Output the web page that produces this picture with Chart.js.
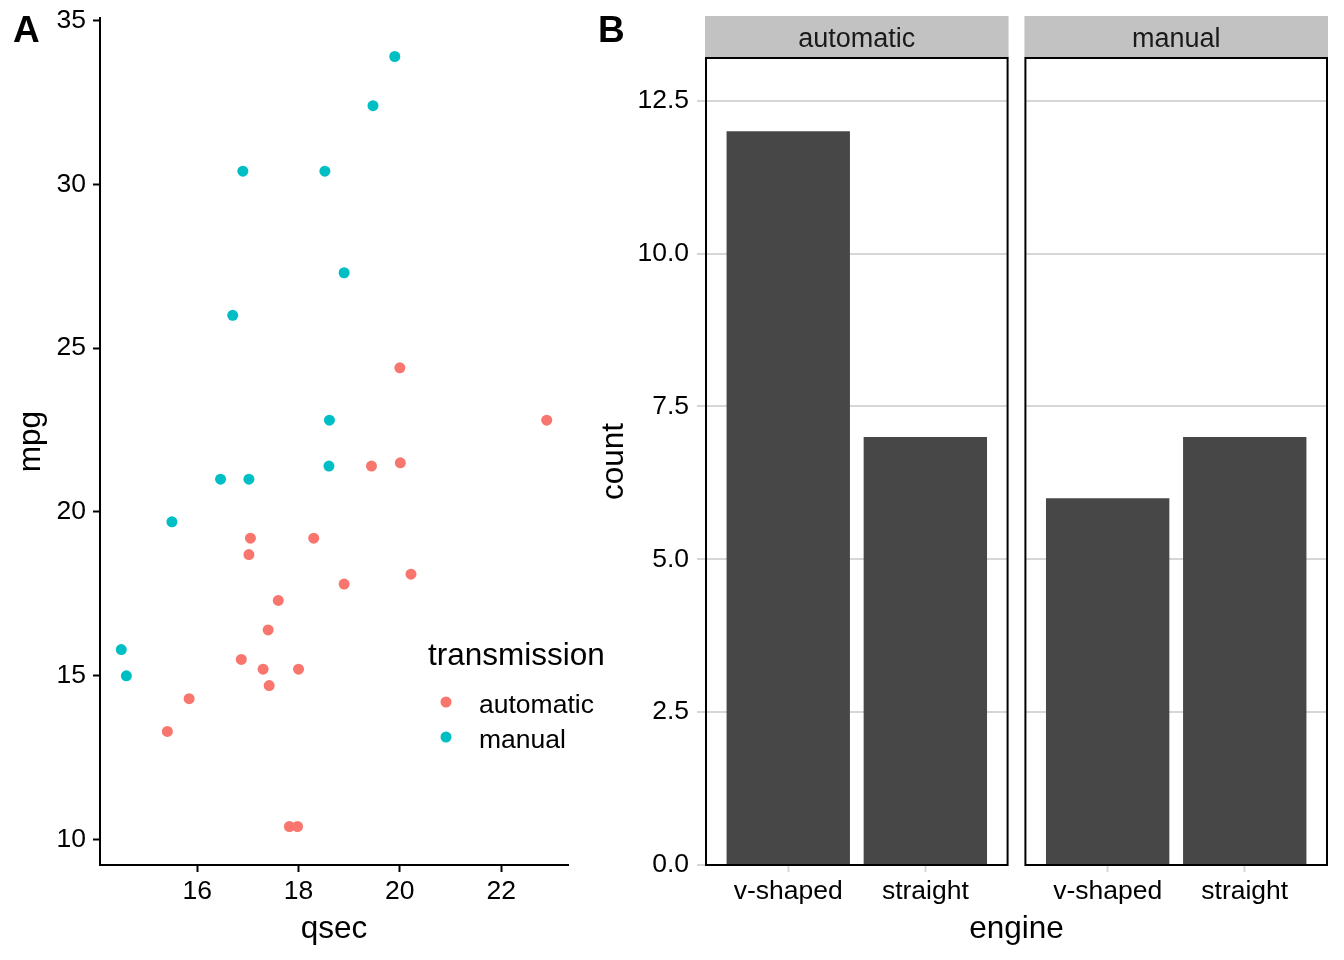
<!DOCTYPE html>
<html>
<head>
<meta charset="utf-8">
<script src="https://cdn.jsdelivr.net/npm/chart.js@4/dist/chart.umd.min.js"></script>
<style>
  body { margin: 0; background: #fff; }
  #wrap { position: relative; width: 1344px; height: 960px; overflow: hidden; }
  canvas { position: absolute; top: 0; }
  #chartA { left: 0; }
  #chartB { left: 580px; }
</style>
</head>
<body>
<div id="wrap">
  <canvas id="chartA" width="620" height="960"></canvas>
  <canvas id="chartB" width="764" height="960"></canvas>
</div>
<script>
// Panel A data: mtcars qsec vs mpg, split by transmission
const qsecAutomatic = [19.44, 17.02, 20.22, 15.84, 20.00, 22.90, 18.30, 18.90, 17.40, 17.60, 18.00, 17.98, 17.82, 17.42, 20.01, 16.87, 17.30, 15.41, 17.05];
const mpgAutomatic  = [21.4, 18.7, 18.1, 14.3, 24.4, 22.8, 19.2, 17.8, 16.4, 17.3, 15.2, 10.4, 10.4, 14.7, 21.5, 15.5, 15.2, 13.3, 19.2];
const qsecManual = [16.46, 17.02, 18.61, 19.47, 18.52, 19.90, 18.90, 16.70, 16.90, 14.50, 15.50, 14.60, 18.60];
const mpgManual  = [21.0, 21.0, 22.8, 32.4, 30.4, 33.9, 27.3, 26.0, 30.4, 15.8, 19.7, 15.0, 21.4];
const xTicksA = [16, 18, 20, 22];
const yTicksA = [10, 15, 20, 25, 30, 35];

// Panel B data: count of cars by engine, faceted by transmission
const transmissions = ['automatic', 'manual'];
const engines = ['v-shaped', 'straight'];
const countsAutomatic = [12, 7];
const countsManual = [6, 7];
const yTicksB = [0, 2.5, 5, 7.5, 10, 12.5];

const colors = { automatic: '#F8766D', manual: '#00BFC4', bar: '#474747' };
const FONT = '"Liberation Sans", Arial, Helvetica, sans-serif';
const tickFont = { family: FONT, size: 26.5 };
const titleFont = { family: FONT, size: 31.5 };

// ggplot style 5% expansion of a continuous range
function expandRange(values) {
    const lo = Math.min(...values);
    const hi = Math.max(...values);
    const pad = (hi - lo) * 0.05;
    return [lo - pad, hi + pad];
}

// keep the axis from pushing the plot area in for its end labels
function noLabelPadding(scale) {
    scale.paddingTop = 0;
    scale.paddingBottom = 0;
    scale.paddingLeft = 0;
    scale.paddingRight = 0;
}

const [xMinA, xMaxA] = expandRange(qsecAutomatic.concat(qsecManual));
const [yMinA, yMaxA] = expandRange(mpgAutomatic.concat(mpgManual));

// Legend and tag for panel A
const panelALegend = {
    id: 'panelALegend',
    afterDraw(chart) {
        const ctx = chart.ctx;
        ctx.save();
        ctx.fillStyle = '#000';
        ctx.textBaseline = 'alphabetic';
        ctx.textAlign = 'left';
        ctx.font = 'bold 37px ' + FONT;
        ctx.fillText('A', 13, 42);
        ctx.font = '31.5px ' + FONT;
        ctx.fillText('transmission', 428, 665);
        ctx.font = '26.5px ' + FONT;
        chart.data.datasets.forEach((ds, i) => {
            const cy = 702 + i * 35;
            ctx.fillStyle = ds.backgroundColor;
            ctx.beginPath();
            ctx.arc(446, cy, 5.5, 0, Math.PI * 2);
            ctx.fill();
            ctx.fillStyle = '#000';
            ctx.fillText(ds.label, 479, cy + 11);
        });
        ctx.restore();
    }
};

new Chart(document.getElementById('chartA'), {
    type: 'scatter',
    data: {
        datasets: [
            {
                label: transmissions[0],
                data: qsecAutomatic.map((x, i) => ({ x: x, y: mpgAutomatic[i] })),
                backgroundColor: colors.automatic,
                pointRadius: 5.5,
                borderWidth: 0
            },
            {
                label: transmissions[1],
                data: qsecManual.map((x, i) => ({ x: x, y: mpgManual[i] })),
                backgroundColor: colors.manual,
                pointRadius: 5.5,
                borderWidth: 0
            }
        ]
    },
    options: {
        responsive: false,
        animation: false,
        events: [],
        layout: { padding: { left: 0, top: 18, right: 52, bottom: 0 } },
        plugins: { legend: { display: false }, tooltip: { enabled: false } },
        scales: {
            x: {
                type: 'linear',
                min: xMinA,
                max: xMaxA,
                afterBuildTicks: (scale) => { scale.ticks = xTicksA.map(v => ({ value: v })); },
                afterFit: (scale) => { scale.height = 95; noLabelPadding(scale); },
                grid: { drawOnChartArea: false, tickLength: 7, tickColor: '#000', tickWidth: 2 },
                border: { display: true, color: '#000', width: 2 },
                ticks: { font: tickFont, color: '#000', padding: 4, maxRotation: 0, autoSkip: false },
                title: { display: true, text: 'qsec', font: titleFont, color: '#000', padding: { top: 0, bottom: 12 } }
            },
            y: {
                type: 'linear',
                min: yMinA,
                max: yMaxA,
                afterBuildTicks: (scale) => { scale.ticks = yTicksA.map(v => ({ value: v })); },
                afterFit: (scale) => { scale.width = 100; noLabelPadding(scale); },
                grid: { drawOnChartArea: false, tickLength: 7, tickColor: '#000', tickWidth: 2 },
                border: { display: true, color: '#000', width: 2 },
                ticks: { font: tickFont, color: '#000', padding: 7, autoSkip: false },
                title: { display: true, text: 'mpg', font: titleFont, color: '#000', padding: { top: 12, bottom: 0 } }
            }
        }
    },
    plugins: [panelALegend]
});

// Panel B: both facets share one linear x axis, with a small gap between them
const facetSpan = engines.length + 0.2;   // 0.6 discrete expansion on each side
const facetGap = 0.13;
const xMinB = 0.4;
const xMaxB = xMinB + facetSpan * transmissions.length + facetGap * (transmissions.length - 1);
const facetX = (f, e) => f * (facetSpan + facetGap) + e + 1;
const facetCounts = [countsAutomatic, countsManual];

const barData = [];
const xTicksB = [];
facetCounts.forEach((counts, f) => {
    counts.forEach((c, e) => {
        barData.push({ x: facetX(f, e), y: c });
        xTicksB.push(facetX(f, e));
    });
});

const facetPanels = {
    id: 'facetPanels',
    beforeDatasetsDraw(chart) {
        // clear the space between the facets
        const { ctx, chartArea } = chart;
        const xs = chart.scales.x;
        ctx.save();
        ctx.fillStyle = '#fff';
        for (let f = 0; f < transmissions.length - 1; f++) {
            const a = xs.getPixelForValue(xMinB + (f + 1) * facetSpan + f * facetGap);
            const b = xs.getPixelForValue(xMinB + (f + 1) * (facetSpan + facetGap));
            ctx.fillRect(a, chartArea.top - 2, b - a, chartArea.bottom - chartArea.top + 4);
        }
        ctx.restore();
    },
    afterDatasetsDraw(chart) {
        const { ctx, chartArea } = chart;
        const xs = chart.scales.x;
        ctx.save();
        transmissions.forEach((t, f) => {
            const a = xs.getPixelForValue(xMinB + f * (facetSpan + facetGap));
            const b = xs.getPixelForValue(xMinB + f * (facetSpan + facetGap) + facetSpan);
            // strip
            ctx.fillStyle = '#c2c2c2';
            ctx.fillRect(a - 1, chartArea.top - 42, b - a + 2, 42);
            ctx.fillStyle = '#1a1a1a';
            ctx.font = '27px ' + FONT;
            ctx.textAlign = 'center';
            ctx.textBaseline = 'alphabetic';
            ctx.fillText(t, (a + b) / 2, chartArea.top - 11);
            // panel border
            ctx.strokeStyle = '#000';
            ctx.lineWidth = 2;
            ctx.strokeRect(a, chartArea.top, b - a, chartArea.bottom - chartArea.top);
        });
        ctx.fillStyle = '#000';
        ctx.textAlign = 'left';
        ctx.font = 'bold 37px ' + FONT;
        ctx.fillText('B', 18, 42);
        ctx.restore();
    }
};

new Chart(document.getElementById('chartB'), {
    type: 'bar',
    data: {
        datasets: [{
            label: 'count',
            data: barData,
            backgroundColor: colors.bar,
            borderWidth: 0,
            barPercentage: 0.9,
            categoryPercentage: 1.0
        }]
    },
    options: {
        responsive: false,
        animation: false,
        events: [],
        layout: { padding: { left: 0, top: 58, right: 17, bottom: 0 } },
        plugins: { legend: { display: false }, tooltip: { enabled: false } },
        scales: {
            x: {
                type: 'linear',
                offset: false,
                min: xMinB,
                max: xMaxB,
                afterBuildTicks: (scale) => { scale.ticks = xTicksB.map(v => ({ value: v })); },
                afterFit: (scale) => { scale.height = 95; noLabelPadding(scale); },
                grid: { offset: false, drawOnChartArea: false, tickLength: 7, tickColor: '#d6d6d6', tickWidth: 2 },
                border: { display: false },
                ticks: {
                    font: tickFont, color: '#000', padding: 4, maxRotation: 0, autoSkip: false,
                    callback: (value, index) => engines[index % engines.length]
                },
                title: { display: true, text: 'engine', font: titleFont, color: '#000', padding: { top: 0, bottom: 12 } }
            },
            y: {
                type: 'linear',
                min: 0,
                max: Math.max(...countsAutomatic, ...countsManual) * 1.1,
                afterBuildTicks: (scale) => { scale.ticks = yTicksB.map(v => ({ value: v })); },
                afterFit: (scale) => { scale.width = 126; noLabelPadding(scale); },
                grid: { color: '#d6d6d6', lineWidth: 2, tickLength: 9, tickColor: '#d6d6d6' },
                border: { display: false },
                ticks: {
                    font: tickFont, color: '#000', padding: 8, autoSkip: false,
                    callback: (value) => value.toFixed(1)
                },
                title: { display: true, text: 'count', font: titleFont, color: '#000', padding: { top: 15, bottom: 0 } }
            }
        }
    },
    plugins: [facetPanels]
});
</script>
</body>
</html>
